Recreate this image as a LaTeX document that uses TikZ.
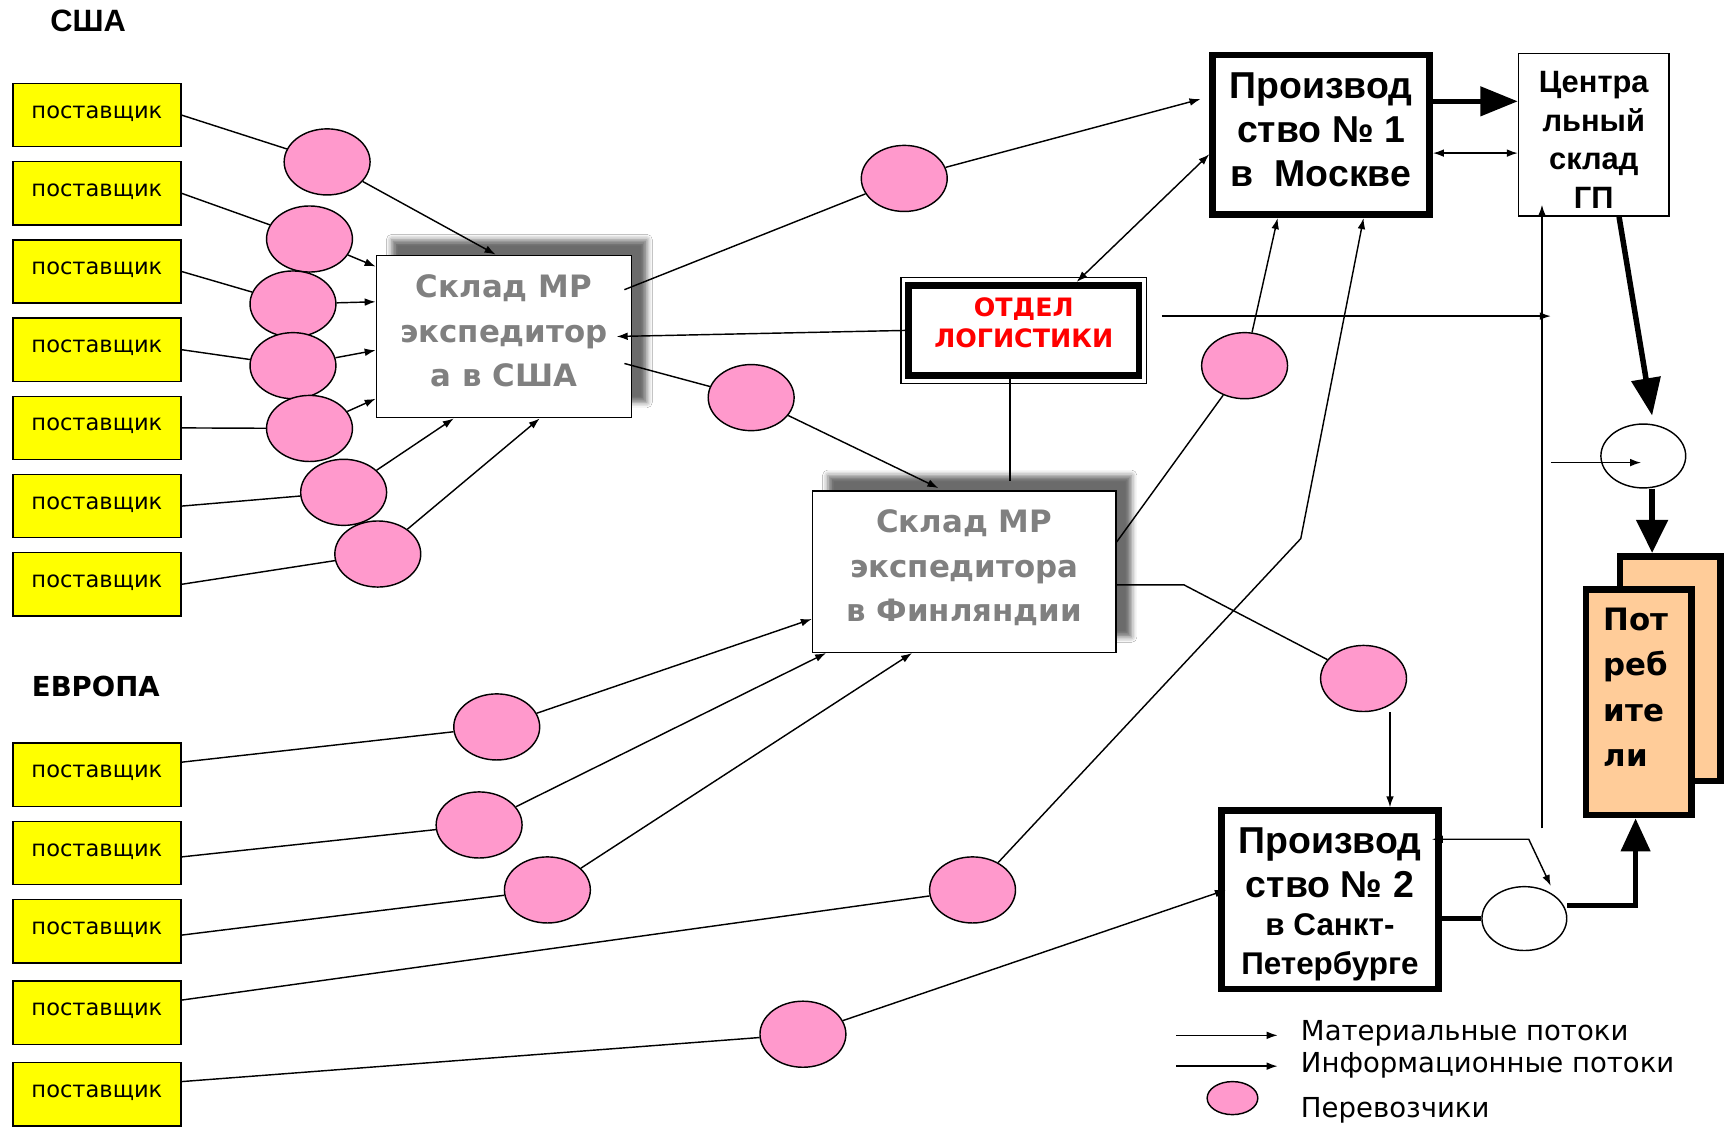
\documentclass[tikz,border=0pt]{standalone}
\usepackage{fontspec}
\setmainfont{DejaVu Sans}
\newfontfamily\arialfont{Liberation Sans}
\usepackage{xcolor}
\usetikzlibrary{arrows.meta,shapes.geometric,shadows.blur,calc}

\definecolor{supyellow}{RGB}{255,255,0}
\definecolor{carpink}{RGB}{255,153,204}
\definecolor{conspeach}{RGB}{255,204,153}
\definecolor{storegray}{RGB}{128,128,128}

\tikzset{
  region/.style={inner sep=0pt, font=\fontsize{25}{28}\selectfont\bfseries},
  supplier/.style={draw, line width=1.3pt, fill=supyellow, minimum width=152.5pt,
    minimum height=57.5pt, inner sep=0pt, font=\fontsize{20.5}{24}\selectfont},
  carrier/.style={ellipse, draw, line width=1.3pt, fill=carpink, minimum width=78pt,
    minimum height=60pt, inner sep=0pt},
  hub/.style={ellipse, draw, line width=1.3pt, fill=white, minimum width=77pt,
    minimum height=58pt, inner sep=0pt},
  store/.style={draw, line width=1.3pt, fill=white,
    blur shadow={shadow xshift=14pt, shadow yshift=14pt, shadow blur radius=5pt, shadow opacity=58}},
  storetext/.style={align=center, inner sep=0pt, text=storegray,
    font=\fontsize{28}{40.5}\selectfont\bfseries},
  plant/.style={draw, line width=6pt, fill=white, inner sep=0pt},
  planttext/.style={align=center, inner sep=0pt, font=\arialfont\fontsize{34}{40}\selectfont\bfseries},
  consumer/.style={draw, line width=6pt, fill=conspeach, inner sep=0pt},
  legtext/.style={anchor=west, inner sep=0pt, font=\fontsize{25}{28}\selectfont},
  link/.style={line width=1.3pt},
  flow/.style={line width=1.3pt, -{Latex[length=10pt,width=7pt]}},
  biflow/.style={line width=1.3pt, {Latex[length=10pt,width=7pt]}-{Latex[length=10pt,width=7pt]}},
  bigflow/.style={line width=5pt, -{Triangle[length=34pt,width=26pt]}},
}

\begin{document}
\begin{tikzpicture}[x=1pt,y=-1pt]
  \fill[white] (0,0) rectangle (1568,1023);
  \useasboundingbox (0,0) rectangle (1568,1023);

  \node[region, font=\arialfont\fontsize{28}{30}\selectfont\bfseries] (usa) at (80,19) {США};
  \node[region] (eur) at (87,623) {ЕВРОПА};

  \foreach \y [count=\i] in {104.5,175.5,246.5,317.5,388.5,459.5,530.5}
    \node[supplier] (su\i) at (88,\y) {\raisebox{6pt}{поставщик}};
  \foreach \y [count=\i from 8] in {703.5,774.5,845.5,919.5,993.5}
    \node[supplier] (su\i) at (88,\y) {\raisebox{6pt}{поставщик}};

  \node[store, minimum width=231.5pt, minimum height=147.5pt] (wu) at (457.5,305.5) {};
  \node[storetext] (wut) at (457.5,300.5) {Склад МР\\экспедитор\\а в США};
  \node[store, minimum width=275.5pt, minimum height=146.5pt] (wf) at (875.5,519) {};
  \node[storetext] (wft) at (875.5,515.5) {Склад МР\\экспедитора\\в Финляндии};

  \node[draw, line width=6pt, fill=white, minimum width=209pt, minimum height=82pt] (lo) at (929.5,300) {};
  \draw[line width=1.2pt] ([shift={(-4pt,4pt)}]lo.north west) rectangle ([shift={(4pt,-4pt)}]lo.south east);
  \node[align=center, inner sep=0pt, text=red, font=\fontsize{23}{28}\selectfont\bfseries] (lot)
    at (929.5,293) {ОТДЕЛ\\ЛОГИСТИКИ};

  \node[plant, minimum width=197pt, minimum height=145pt] (p1) at (1199.5,122.5) {};
  \node[planttext] (p1t) at (1199.5,118) {Производ\\ство № 1\\в\ \ Москве};
  \node[draw, line width=1.3pt, minimum width=136.5pt, minimum height=147.5pt, inner sep=0pt] (cw)
    at (1447,122.5) {};
  \node[align=center, inner sep=0pt, font=\arialfont\fontsize{28}{35}\selectfont\bfseries] (cwt)
    at (1447,127) {Центра\\льный\\склад\\ГП};
  \node[plant, minimum width=197pt, minimum height=162pt] (p2) at (1207.5,817) {};
  \node[planttext] (p2t) at (1207.5,783) {Производ\\ство № 2};
  \node[planttext, font=\arialfont\fontsize{28.5}{35}\selectfont\bfseries] (p2c)
    at (1207.5,860) {в Санкт-\\Петербурге};

  \node[consumer, minimum width=91pt, minimum height=204pt] (cb) at (1516.5,607) {};
  \node[consumer, minimum width=96pt, minimum height=205pt] (cf) at (1488,637.5) {};
  \node[anchor=west, align=left, inner sep=0pt, font=\fontsize{28}{41}\selectfont\bfseries] (ct)
    at ([xshift=-32pt,yshift=13.5pt]cf.center) {Пот\\реб\\ите\\ли};

  \node[hub] (we1) at (1492,414) {};
  \node[hub] (we2) at (1384,834) {};

  \foreach \x/\y [count=\i] in {297/147,281/217,266/276,266/332,281/389,312/447,343/503,
      451/660,435/749,497/808,883/808,729/939}
    \node[carrier] (ca\i) at (\x,\y) {};
  \node[carrier] (cam) at (821,162) {};
  \node[carrier] (caf) at (682,361) {};
  \node[carrier] (cfm) at (1130,332) {};
  \node[carrier] (cfs) at (1238,616) {};

  \foreach \i in {1,...,7}
    \draw[link] (su\i.east) -- (ca\i);
  \foreach \i/\s in {8/11.5,9/-3.5,10/-3.5,11/11.5,12/11.5}
    \draw[link] ([yshift=\s pt]su\i.east) -- (ca\i);

  \draw[flow] (ca1) -- ([xshift=-7.5pt]wu.north);
  \draw[flow] (ca2) -- ([yshift=63.5pt]wu.west);
  \draw[flow] (ca3) -- ([yshift=31.5pt]wu.west);
  \draw[flow] (ca4) -- ([yshift=-12.5pt]wu.west);
  \draw[flow] (ca5) -- ([yshift=-56.5pt]wu.west);
  \draw[flow] (ca6) -- ([xshift=-45.5pt]wu.south);
  \draw[flow] (ca7) -- ([xshift=32.5pt]wu.south);

  \draw[flow] (ca8) -- ([yshift=-43pt]wf.west);
  \draw[flow] (ca9) -- ([xshift=13pt]wf.south west);
  \draw[flow] (ca10) -- ([xshift=91pt]wf.south west);
  \coordinate (kink) at (1181,489);
  \draw[flow] (ca11) -- (kink) -- ([xshift=38.5pt]p1.south);
  \draw[flow] (ca12) -- ([xshift=7pt,yshift=9pt]p2.west);

  \draw[link] ([xshift=-7pt,yshift=42.5pt]wu.east) -- (cam);
  \draw[flow] (cam) -- ([xshift=-8pt,yshift=32.5pt]p1.west);
  \draw[link] ([xshift=-7pt,yshift=-24.5pt]wu.east) -- (caf);
  \draw[flow] (caf) -- ([xshift=-23.5pt,yshift=2pt]wf.north);

  \draw[link] ([yshift=27pt]wf.east) -- (cfm);
  \draw[flow] (cfm) -- ([xshift=-39.5pt]p1.south);
  \draw[link] ([yshift=-12pt]wf.east) -- ++(61,0) -- (cfs);
  \draw[flow] ([xshift=24pt]cfs.south) -- ([xshift=54.5pt]p2.north);

  \draw[flow] (lo.west) -- ([xshift=-14pt]wu.east);
  \draw[biflow] ([xshift=48pt]lo.north) -- ([yshift=-17.5pt]p1.west);
  \coordinate (inf) at (1408,287);
  \draw[flow] ([xshift=18pt,yshift=13pt]lo.east) -- (inf);
  \draw[link] ([xshift=-12.5pt]lo.south) -- ([xshift=41.5pt,yshift=8pt]wf.north);

  \draw[bigflow] ([yshift=30.5pt]p1.east) -- ([yshift=30.5pt]cw.west);
  \draw[biflow] ([yshift=-16.5pt]p1.east) -- ([yshift=-16.5pt]cw.west);

  \coordinate (vb) at (1400,752);
  \draw[flow] (vb) -- ([xshift=-47pt,yshift=11pt]cw.south);
  \draw[bigflow] ([xshift=23pt]cw.south) -- ([xshift=8pt,yshift=7pt]we1.north);
  \coordinate (cin) at (1408,420);
  \draw[flow] (cin) -- ([xshift=-2pt,yshift=-6pt]we1.center);
  \draw[bigflow, -{Triangle[length=30pt,width=28pt]}] ([xshift=8pt]we1.south) -- ([xshift=-16.5pt]cb.north);

  \draw[line width=5pt] ([yshift=-17pt]p2.east) -- (we2.west);
  \draw[bigflow, -{Triangle[length=30pt,width=26pt]}] ([yshift=12pt]we2.east) -| ([xshift=-3pt]cf.south);
  \draw[biflow] ([xshift=-9pt,yshift=55pt]p2.east) -- ++(88,0) -- ([xshift=24pt]we2.north);

  \node[legtext] (lgm) at (1181,938) {Материальные потоки};
  \node[legtext] (lgi) at (1181,967) {Информационные потоки};
  \node[legtext] (lgp) at (1181,1008) {Перевозчики};
  \draw[flow] ([xshift=-113pt,yshift=-2pt]lgm.west) -- ([xshift=-21pt,yshift=-2pt]lgm.west);
  \draw[flow] ([xshift=-113pt,yshift=-1pt]lgi.west) -- ([xshift=-21pt,yshift=-1pt]lgi.west);
  \node[carrier, minimum width=46pt, minimum height=30pt] (lgc) at (1119,997) {};
\end{tikzpicture}
\end{document}
